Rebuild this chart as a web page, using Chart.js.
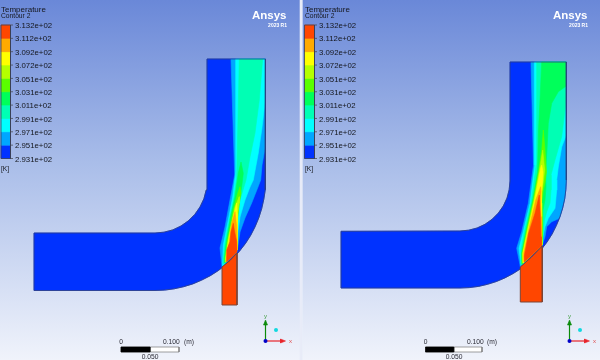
<!DOCTYPE html>
<html>
<head>
<meta charset="utf-8">
<style>
html, body { margin:0; padding:0; width:600px; height:360px; overflow:hidden;
  background:linear-gradient(to bottom, #6a88d8 0%, #a9bde9 45%, #f0f3fb 100%); }
canvas { display:block; filter:blur(0.4px); }
</style>
<script src="https://cdn.jsdelivr.net/npm/chart.js@4"></script>
</head>
<body>
<canvas id="c" width="600" height="360"></canvas>
<script>
// legend
var tickLabels = ['3.132e+02','3.112e+02','3.092e+02','3.072e+02','3.051e+02','3.031e+02','3.011e+02','2.991e+02','2.971e+02','2.951e+02','2.931e+02'];
var bandColors = ['#0032ff','#00a6ff','#00ffff','#00ffb4','#00ff5a','#5aff00','#b4ff00','#ffff00','#ffaa00','#ff4600'];

// left panel, wall outline and contour levels (view units, 1 = 1 px)
var leftDuct = [[207,59],[265.5,59],[265.5,180],[265.1,189.6],[263.8,199.2],[261.7,208.6],[258.8,217.8],[255.1,226.7],[250.7,235.3],[245.5,243.4],[239.6,251],[233.1,258.1],[226,264.6],[218.4,270.5],[210.3,275.7],[201.7,280.1],[192.8,283.9],[183.6,286.7],[174.2,288.8],[164.6,290.1],[155,290.5],[34,290.5],[34,233],[155,233],[164,232.2],[172.8,229.9],[181,226],[188.4,220.8],[194.8,214.4],[200,207],[203.9,198.8],[206.2,190],[207,181]];
var leftInlet = [[222,267],[230,260.5],[237,253],[237,305],[222,305]];
var leftLevel1 = [[231,59],[265.5,59],[265.5,146],[262,165],[260.7,180],[258,187],[251.7,203],[245,218],[240,232],[237,252],[222,267],[220,248],[225,227],[230,200],[234.7,175]];
var leftLevel2 = [[235.7,59],[265.5,59],[265.3,100],[261.7,130],[258.3,153],[253.3,180],[250,187],[245,200],[240,217],[237.7,233],[237,250],[222.5,266],[223.3,245],[228.3,220],[232.7,197],[235.7,172]];
var leftLevel3 = [[239.3,59],[262.7,59],[259.3,100],[255,133],[250,157],[246,180],[240,200],[237.3,217],[237,237],[237,250],[223.5,264],[223.3,258],[225,243],[230,217],[234,197],[236.7,178]];
var leftLevel4 = [[241,162],[243.3,173.3],[241.7,186.7],[239,203.3],[237.3,220],[236.7,241.7],[237,250],[224.3,263],[224.3,258.3],[226,243.3],[230.7,216.7],[235,196.7],[238.3,173.3]];
var leftLevel5 = [[240,186.7],[241,193.3],[239.3,203.3],[237.7,216.7],[237,242],[237,250],[225,262.5],[225,258.3],[227.3,241.7],[233.3,210],[237.7,193.3]];
var leftLevel6 = [[239.3,196.7],[239.3,203],[237.7,213.3],[237,240],[237,250],[225.7,262],[225.7,258],[228.3,238.3],[235,206.7]];
var leftLevel7 = [[236.7,203],[237.3,213.3],[237,240],[237,250],[226,261.5],[226,258],[228.7,240],[233.3,216.7]];
var leftLevel8 = [[235,211.7],[236.7,226.7],[237,250],[226.5,261],[226.5,258],[229.3,241.7],[231.7,223.3]];
var leftLevel9 = [[233.3,223.3],[234.3,230],[236.7,241.7],[237,252],[226.7,262],[226.7,250],[230,241.7],[231,232]];

// right panel
var rightDuct = [[510,62],[566.3,62],[566.3,180],[565.9,189.4],[564.7,198.8],[562.7,208],[559.9,216.9],[556.3,225.6],[552.1,234],[547.1,241.9],[541.4,249.4],[535.2,256.4],[528.3,262.7],[521,268.5],[513.2,273.5],[504.9,277.9],[496.4,281.5],[487.5,284.3],[478.5,286.4],[469.3,287.6],[460,288],[341,288],[341,231.3],[460,231],[468.7,230.2],[477.1,228],[485,224.3],[492.1,219.3],[498.3,213.1],[503.3,206],[507,198.1],[509.2,189.7],[510,181]];
var rightInlet = [[520.3,267],[531,257.5],[542.3,246],[542.3,302],[520.3,302]];
var rightLevel1 = [[531,62],[566.3,62],[566.3,180],[564.7,198.8],[560,216.7],[558,219],[551.7,221.7],[546.7,226.7],[545,236.7],[542.3,245],[520.3,266.5],[520,265],[516.7,248.3],[521.7,231.7],[528.3,203.3],[533.5,165]];
var rightLevel2 = [[534.3,62],[566.3,62],[566.3,135],[561.7,147],[558.3,167],[556.7,180],[556.7,190],[555,208.3],[548.3,218.3],[545,226.7],[541.7,241.7],[542.3,245],[521,265.5],[519,248.3],[523.3,231.7],[530,203.3],[534.8,165]];
var rightLevel3 = [[536.7,62],[566.3,62],[566.3,100],[561.7,136.7],[555,160],[551,175],[551,190],[550,203],[546.7,211.7],[544.5,220],[542.7,240],[542.3,245],[521.5,265],[521,250],[524.3,231.7],[531,203.3],[536.2,165]];
var rightLevel4 = [[541.7,62],[566.3,62],[566.3,86],[558.3,91.7],[551.7,103.3],[548.3,123.3],[547,150],[545.5,172],[546,187],[545,200],[543,210],[542.7,220],[542.3,240],[542,245],[522,264],[521.7,253.3],[526,230],[532.7,200],[537.5,172],[538.5,130],[540,100]];
var rightLevel5 = [[543.3,130],[545,150],[546.5,172],[545,183],[543.3,190],[541.7,203],[542.2,216.7],[542.2,240],[542,245],[522.5,263.5],[522,253.3],[526.7,230],[533.3,200],[538.7,170],[541.7,150]];
var rightLevel6 = [[542.7,150],[544.7,170],[543.5,180],[542,192],[541.3,203],[541.8,216.7],[542,240],[542,245],[523,263],[522.7,253.3],[527.3,230],[534,200],[539.5,170]];
var rightLevel7 = [[541.7,165],[543,172],[542.5,182],[541.5,192],[541,205],[541.5,216.7],[541.7,236.7],[542,245.5],[523.5,262.5],[523,253.3],[528,230],[534.7,200],[540.7,168]];
var rightLevel8 = [[540.7,186.7],[541,192],[540.5,205],[541,216.7],[541.3,236.7],[541.8,246],[524,262],[523.7,253.3],[528.7,230],[535.7,200]];
var rightLevel9 = [[539.3,195],[540.3,216.7],[541,236.7],[541.5,246],[524.5,262],[524.3,256],[528.7,233],[535,213.3]];

function pts(list){ return list.map(function(p){ return {x:p[0], y:p[1]}; }); }
function closed(list){ return pts(list.concat([list[0]])); }

var datasets = [];
function poly(list, color, line, lineW){
  datasets.push({ data:closed(list), showLine:true, fill:'shape', backgroundColor:color,
    borderColor:line || color, borderWidth:lineW || 0.6, pointRadius:0, tension:0 });
}
function stroke(list, color, w){
  datasets.push({ data:pts(list), showLine:true, fill:false, borderColor:color, borderWidth:w, pointRadius:0, tension:0 });
}
function dot(x, y, color, r){
  datasets.push({ data:[{x:x, y:y}], showLine:false, backgroundColor:color, borderWidth:0, pointRadius:r });
}

function panel(duct, inlet, levels){
  poly(duct, bandColors[0]);
  levels.forEach(function(l, i){ poly(l, bandColors[i+1]); });
  stroke(duct.concat([duct[0]]), '#2d3f80', 0.8);
  poly(inlet, bandColors[9], '#7a4436', 1);
}
panel(leftDuct, leftInlet, [leftLevel1,leftLevel2,leftLevel3,leftLevel4,leftLevel5,leftLevel6,leftLevel7,leftLevel8,leftLevel9]);
panel(rightDuct, rightInlet, [rightLevel1,rightLevel2,rightLevel3,rightLevel4,rightLevel5,rightLevel6,rightLevel7,rightLevel8,rightLevel9]);

// white gap between the two views
poly([[300,0],[302,0],[302,360],[300,360]], '#e8ecf8');

// colour bars, scale bars, triads
function colourBar(x0, x1){
  var top = 25, step = 13.35;
  bandColors.forEach(function(col, i){
    var y0 = top + (9-i)*step, y1 = y0 + step;
    poly([[x0,y0],[x1,y0],[x1,y1],[x0,y1]], col);
  });
  stroke([[x0,top],[x1,top],[x1,top+10*step],[x0,top+10*step],[x0,top]], '#3a3f55', 0.8);
  for(var i=0;i<=10;i++) stroke([[x1,top+i*step],[x1+2.5,top+i*step]], '#444', 0.7);
}
function scaleBar(x0, x1){
  var mid = (x0+x1)/2;
  poly([[x0,347],[x1,347],[x1,352],[x0,352]], '#ffffff', '#777', 0.7);
  poly([[x0,347],[mid,347],[mid,352],[x0,352]], '#000000');
}
function triad(x, y){
  stroke([[x,y],[x,y-17]], '#0a8a0a', 1.2);
  poly([[x-2,y-16],[x+2,y-16],[x,y-21]], '#0a8a0a');
  stroke([[x,y],[x+15,y]], '#e8232a', 1.2);
  poly([[x+15,y-2],[x+15,y+2],[x+20,y]], '#e8232a');
  dot(x+10.5, y-11, '#10d8e0', 2);
  dot(x, y, '#0000c8', 2);
}
colourBar(1, 10.5); colourBar(304.5, 314.5);
scaleBar(121, 179); scaleBar(425.5, 482);
triad(265.5, 341); triad(569.5, 341);

datasets.forEach(function(d, i){ d.order = datasets.length - i; });

/* ── text layer ── */
var textLayer = {
  id:'textLayer',
  afterDatasetsDraw:function(chart){
    var ctx = chart.ctx, sx = chart.scales.x, sy = chart.scales.y;
    function t(str, x, y, font, color, align){
      ctx.font = font; ctx.fillStyle = color; ctx.textAlign = align || 'left'; ctx.textBaseline = 'middle';
      ctx.fillText(str, sx.getPixelForValue(x), sy.getPixelForValue(y));
    }
    var F = '"Liberation Sans"', ink = '#14161c';
    [{bar:1, lab:15, logo:252, zero:121, hun:163, m:184, mid:150, tx:265.5},
     {bar:305, lab:319, logo:553, zero:425.5, hun:467, m:487, mid:454, tx:569.5}].forEach(function(p){
      t('Temperature', p.bar, 9.5, '8px '+F, ink);
      t('Contour 2', p.bar, 16.5, '6.7px '+F, ink);
      tickLabels.forEach(function(s, i){ t(s, p.lab, 26 + i*13.35, '7.8px '+F, ink); });
      t('[K]', p.bar, 169, '6.7px '+F, ink);
      t('Ansys', p.logo, 16, 'bold 11.5px '+F, '#ffffff');
      t('2023 R1', p.logo+35, 25.7, 'bold 5px '+F, '#ffffff', 'right');
      t('0', p.zero, 342, '6.7px '+F, '#2a2a34', 'center');
      t('0.100', p.hun, 342, '6.7px '+F, '#2a2a34');
      t('(m)', p.m, 342, '6.7px '+F, '#2a2a34');
      t('0.050', p.mid, 357, '6.7px '+F, '#2a2a34', 'center');
      t('y', p.tx, 316, '6px '+F, '#3d9a3d', 'center');
      t('x', p.tx+25, 341, '6px '+F, '#e05050', 'center');
    });
  }
};

new Chart(document.getElementById('c'), {
  type:'scatter',
  data:{ datasets:datasets },
  options:{
    responsive:false, animation:false,
    layout:{ autoPadding:false, padding:0 },
    plugins:{ legend:{ display:false }, tooltip:{ enabled:false }, title:{ display:false } },
    scales:{
      x:{ type:'linear', min:0, max:600, display:false },
      y:{ type:'linear', min:0, max:360, reverse:true, display:false }
    }
  },
  plugins:[textLayer]
});
</script>
</body>
</html>
